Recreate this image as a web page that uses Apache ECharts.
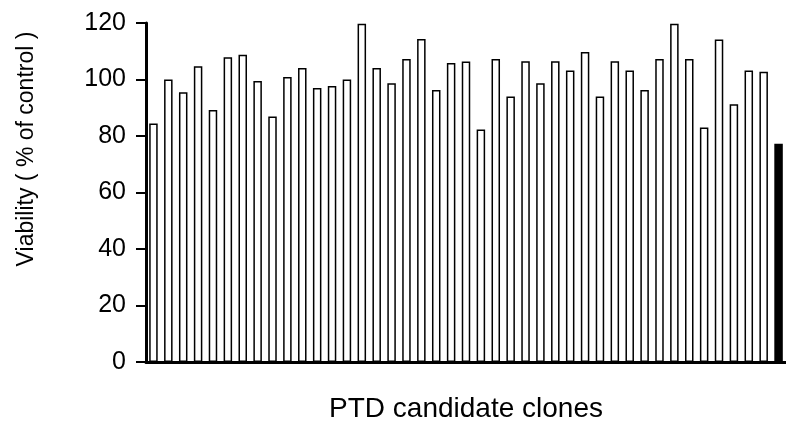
<!DOCTYPE html>
<html>
<head>
<meta charset="utf-8">
<script src="https://cdn.jsdelivr.net/npm/echarts@6/dist/echarts.min.js"></script>
<style>
  html, body { margin: 0; padding: 0; background: #fff; }
  #chart { width: 786px; height: 428px; }
</style>
</head>
<body>
<div id="chart"></div>
<script>
// clone index 1..43, last one is the control bar drawn in black
const clones = Array.from({ length: 43 }, (_, i) => 'clone ' + (i + 1));
const viability = [
  84.4, 100, 95.5, 104.7, 89.2, 107.9, 108.8, 99.5, 86.9, 100.9,
  104.1, 97, 97.7, 100, 119.7, 104.1, 98.7, 107.3, 114.3, 96.3,
  105.8, 106.4, 82.3, 107.3, 94, 106.5, 98.7, 106.5, 103.2, 109.7,
  94, 106.5, 103.2, 96.3, 107.3, 119.7, 107.3, 83, 114.2, 91.2,
  103.2, 102.7, 77.3
];
const yTicks = [0, 20, 40, 60, 80, 100, 120];

const font = '"Liberation Sans", Arial, Helvetica, sans-serif';
const lastIdx = viability.length - 1;

const chart = echarts.init(document.getElementById('chart'), null, { renderer: 'canvas' });
chart.setOption({
  animation: false,
  backgroundColor: '#fff',
  grid: { left: 146, top: 23, width: 642, height: 339, containLabel: false },
  xAxis: {
    type: 'category',
    data: clones,
    axisLine: { show: true, lineStyle: { color: '#000', width: 3 } },
    axisTick: { show: false },
    axisLabel: { show: false },
    splitLine: { show: false }
  },
  yAxis: {
    type: 'value',
    min: yTicks[0],
    max: yTicks[yTicks.length - 1],
    interval: 20,
    axisLine: { show: true, lineStyle: { color: '#000', width: 3 } },
    axisTick: { show: true, inside: false, length: 10, lineStyle: { color: '#000', width: 2 } },
    axisLabel: { color: '#000', fontSize: 25, fontFamily: font, margin: 20 },
    splitLine: { show: false }
  },
  series: [{
    type: 'bar',
    data: viability.map((v, i) => i === lastIdx
      ? { value: v, itemStyle: { color: '#000', borderColor: '#000', borderWidth: 4 } }
      : v),
    barWidth: 8.5,
    itemStyle: { color: '#fff', borderColor: '#000', borderWidth: 1.5 },
    silent: true
  }],
  graphic: [
    {
      type: 'text',
      x: 466, y: 409,
      style: {
        text: 'PTD candidate clones',
        font: '28px ' + font,
        fill: '#000',
        textAlign: 'center',
        textVerticalAlign: 'middle'
      }
    },
    {
      type: 'text',
      x: 27, y: 149,
      rotation: Math.PI / 2,
      style: {
        text: 'Viability ( % of control )',
        font: '23px ' + font,
        fill: '#000',
        textAlign: 'center',
        textVerticalAlign: 'middle'
      }
    }
  ]
});
</script>
</body>
</html>
